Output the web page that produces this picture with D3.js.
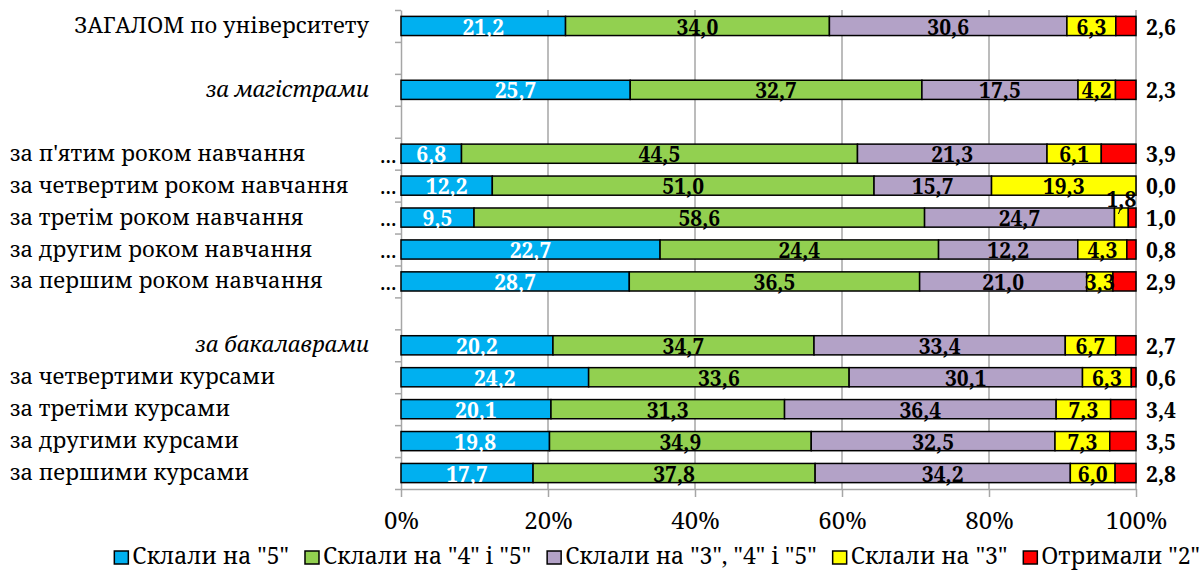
<!DOCTYPE html>
<html>
<head>
<meta charset="utf-8">
<script src="https://cdn.jsdelivr.net/npm/d3@7"></script>
<style>
  body { margin: 0; background: #fff; }
  svg { display: block; }
</style>
</head>
<body>
<div id="chart"></div>
<script>
// rows top to bottom, empty strings are the spacer rows
const categories = [
  'ЗАГАЛОМ по університету', '', 'за магістрами', '',
  "за п'ятим роком навчання", 'за четвертим роком навчання', 'за третім роком навчання',
  'за другим роком навчання', 'за першим роком навчання', '',
  'за бакалаврами', 'за четвертими курсами', 'за третіми курсами',
  'за другими курсами', 'за першими курсами'
];
const headers = ['за магістрами', 'за бакалаврами'];

const seriesNames = ['Склали на "5"', 'Склали на "4" і "5"', 'Склали на "3", "4" і "5"', 'Склали на "3"', 'Отримали "2"'];
const seriesColors = ['#00b0f0', '#92d050', '#b3a2c7', '#ffff00', '#ff0000'];

const on5 = [21.2, null, 25.7, null, 6.8, 12.2, 9.5, 22.7, 28.7, null, 20.2, 24.2, 20.1, 19.8, 17.7];
const on45 = [34.0, null, 32.7, null, 44.5, 51.0, 58.6, 24.4, 36.5, null, 34.7, 33.6, 31.3, 34.9, 37.8];
const on345 = [30.6, null, 17.5, null, 21.3, 15.7, 24.7, 12.2, 21.0, null, 33.4, 30.1, 36.4, 32.5, 34.2];
const on3 = [6.3, null, 4.2, null, 6.1, 19.3, 1.8, 4.3, 3.3, null, 6.7, 6.3, 7.3, 7.3, 6.0];
const got2 = [2.6, null, 2.3, null, 3.9, 0.0, 1.0, 0.8, 2.9, null, 2.7, 0.6, 3.4, 3.5, 2.8];

const xTicks = [0, 0.2, 0.4, 0.6, 0.8, 1];

const W = 1202, H = 573;
const svg = d3.select('#chart').append('svg').attr('width', W).attr('height', H);

const x = d3.scaleLinear().domain([0, 1]).range([401, 1136]);
const y = d3.scaleBand().domain(d3.range(categories.length)).range([10, 489])
        .paddingInner(0.4).paddingOuter(0.2);
const yEdge = d3.scaleLinear().domain([0, categories.length]).range([10, 489]);

const serif = "'Noto Serif', 'Liberation Serif', serif";
const fmt = v => d3.format('.1f')(v).replace('.', ',');

// build the stacked rows (percent stacked: normalise by row total)
const all = [on5, on45, on345, on3, got2];
const rows = categories.map((name, i) => {
        if (on5[i] == null) return null;
        const vals = all.map(s => s[i]);
        const total = d3.sum(vals);
        let acc = 0;
        const segs = vals.map((v, k) => {
                const s = { k, v, x0: acc / total, x1: (acc + v) / total };
                acc += v;
                return s;
        });
        return { i, name, segs };
}).filter(r => r);

// gridlines
svg.append('g').selectAll('line')
        .data(xTicks.slice(1))
        .join('line')
        .attr('x1', d => x(d)).attr('x2', d => x(d))
        .attr('y1', 10).attr('y2', 489)
        .attr('stroke', '#a6a6a6').attr('stroke-width', 1.5);

// axes
const xAxis = svg.append('g').attr('transform', 'translate(0,489)')
        .call(d3.axisBottom(x).tickValues(xTicks).tickFormat(d3.format('.0%')).tickSize(8).tickPadding(15).tickSizeOuter(0));
xAxis.select('.domain').attr('stroke', '#a6a6a6').attr('stroke-width', 1.5);
xAxis.selectAll('line').attr('stroke', '#a6a6a6').attr('stroke-width', 1.5);
xAxis.selectAll('text').attr('font-family', serif).attr('font-size', 24).attr('fill', '#000');

const yAxis = svg.append('g').attr('transform', 'translate(401,0)')
        .call(d3.axisLeft(yEdge).tickValues(d3.range(categories.length + 1)).tickFormat('').tickSize(6).tickSizeOuter(0));
yAxis.select('.domain').attr('stroke', '#a6a6a6').attr('stroke-width', 1.5);
yAxis.selectAll('line').attr('stroke', '#a6a6a6').attr('stroke-width', 1.5);

// bars
const rowG = svg.append('g').selectAll('g')
        .data(rows)
        .join('g')
        .attr('transform', d => `translate(0,${y(d.i)})`);

rowG.selectAll('rect')
        .data(d => d.segs.filter(s => s.v > 0))
        .join('rect')
        .attr('x', s => x(s.x0))
        .attr('width', s => x(s.x1) - x(s.x0))
        .attr('height', y.bandwidth())
        .attr('fill', s => seriesColors[s.k])
        .attr('stroke', '#000')
        .attr('stroke-width', 1.5);

// value labels
const bw = y.bandwidth();
rowG.selectAll('text.val')
        .data(d => d.segs)
        .join('text')
        .attr('class', 'val')
        .attr('font-family', serif)
        .attr('font-weight', 'bold')
        .attr('font-size', 21)
        .attr('text-anchor', 'middle')
        .attr('fill', s => s.k === 0 ? '#fff' : '#000')
        .attr('x', s => s.k === 4 ? 1161 : (x(s.x0) + x(s.x1)) / 2)
        .attr('y', s => (s.k === 3 && s.v < 2.5) ? -1 : bw - 1)
        .text(s => fmt(s.v));

// small leader for labels lifted above the bar
rowG.selectAll('line.lead')
        .data(d => d.segs.filter(s => s.k === 3 && s.v < 2.5))
        .join('line')
        .attr('class', 'lead')
        .attr('x1', s => (x(s.x0) + x(s.x1)) / 2 - 1).attr('x2', s => (x(s.x0) + x(s.x1)) / 2 - 3)
        .attr('y1', 1).attr('y2', 6)
        .attr('stroke', '#000').attr('stroke-width', 1);

// category labels
const labels = svg.append('g').selectAll('g')
        .data(rows)
        .join('g')
        .attr('transform', d => `translate(0,${y(d.i) + bw / 2})`);

labels.append('text')
        .attr('font-family', serif)
        .attr('font-size', 22)
        .attr('font-style', d => headers.includes(d.name) ? 'italic' : 'normal')
        .attr('text-anchor', d => (d.i === 0 || headers.includes(d.name)) ? 'end' : 'start')
        .attr('x', d => (d.i === 0 || headers.includes(d.name)) ? 369 : 10)
        .attr('dy', '0.32em')
        .text(d => d.name);

labels.filter(d => d.name.includes('роком'))
        .append('text')
        .attr('font-family', serif)
        .attr('font-size', 22)
        .attr('x', 380)
        .attr('dy', '0.4em')
        .text('...');

// legend
const legend = svg.append('g');
let lx = 0;
const items = legend.selectAll('g')
        .data(seriesNames)
        .join('g');
items.append('rect')
        .attr('y', -13).attr('width', 14).attr('height', 13)
        .attr('fill', (d, k) => seriesColors[k])
        .attr('stroke', '#000').attr('stroke-width', 1.5);
items.append('text')
        .attr('x', 18)
        .attr('font-family', serif)
        .attr('font-size', 23)
        .text(d => d);
items.each(function () {
        const w = d3.select(this).select('text').node().getComputedTextLength();
        d3.select(this).attr('transform', `translate(${lx},0)`);
        lx += 18 + w + 16;
});
legend.attr('transform', `translate(${1200 - (lx - 16)},564)`);
</script>
</body>
</html>
